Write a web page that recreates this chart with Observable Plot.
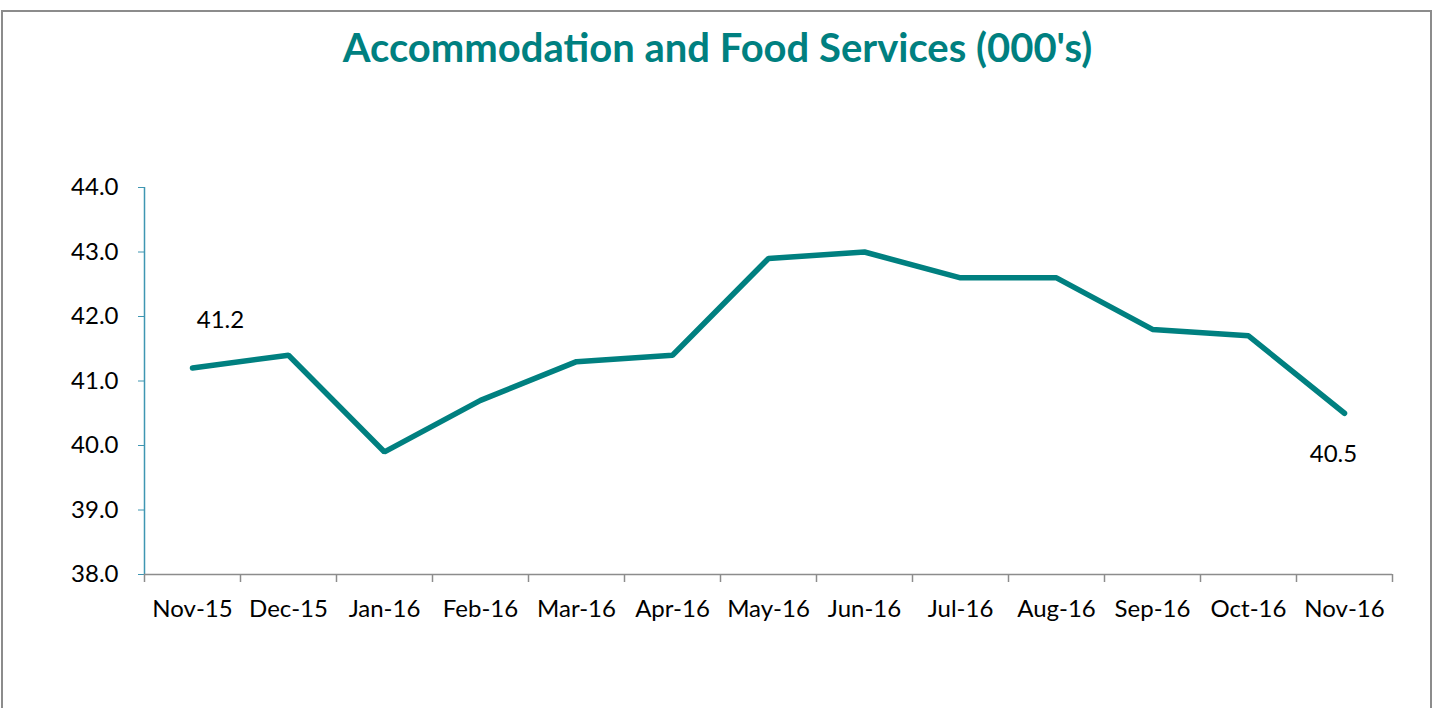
<!DOCTYPE html>
<html>
<head>
<meta charset="utf-8">
<script src="https://cdn.jsdelivr.net/npm/d3@7"></script>
<script src="https://cdn.jsdelivr.net/npm/@observablehq/plot@0.6"></script>
<style>
  html, body { margin: 0; padding: 0; background: #fff; overflow: hidden; }
  #wrap { position: relative; width: 1435px; height: 708px; }
  #frame { position: absolute; left: 1px; top: 10px; width: 1427px; height: 760px;
           border: 2px solid #8c8c8c; box-sizing: content-box; pointer-events: none; }
  #title { position: absolute; left: 0; top: 0; width: 1435px; height: 100px;
           font-family: Lato, sans-serif; font-weight: 700; font-size: 40px; color: #008080;
           text-align: center; line-height: 100px; }
  #titleText { position: relative; top: -3px; }
  #chart { position: absolute; left: 0; top: 100px; }
</style>
</head>
<body>
<div id="wrap">
  <div id="title"><span id="titleText">Accommodation and Food Services (000's)</span></div>
  <div id="chart"></div>
  <div id="frame"></div>
</div>
<script>
const months = ["Nov-15","Dec-15","Jan-16","Feb-16","Mar-16","Apr-16","May-16","Jun-16","Jul-16","Aug-16","Sep-16","Oct-16","Nov-16"];
const values = [41.2, 41.4, 39.9, 40.7, 41.3, 41.4, 42.9, 43.0, 42.6, 42.6, 41.8, 41.7, 40.5];
const yTicks = [38, 39, 40, 41, 42, 43, 44];
const labelled = [0, 12]; // indices carrying data labels

const data = months.map((m, i) => ({month: m, idx: i + 0.5, value: values[i]}));
const teal = "#008080";
const yAxisColor = "#3f96b2";
const xAxisColor = "#8c8c8c";

const plot = Plot.plot({
  width: 1435,
  height: 608,
  marginLeft: 144,
  marginRight: 43,
  marginTop: 87,
  marginBottom: 134,
  style: {fontFamily: "Lato, sans-serif", fontSize: "24px", color: "#000", background: "transparent"},
  x: {type: "linear", domain: [0, months.length], label: null},
  y: {domain: [38, 44], label: null},
  marks: [
    // y axis
    Plot.axisY(yTicks, {tickFormat: d => d.toFixed(1), tickSize: 6, tickPadding: 20, stroke: yAxisColor, fill: "#000", fontSize: 24, label: null}),
    Plot.ruleX([0], {stroke: yAxisColor, strokeWidth: 1.5}),
    // x axis: boundary ticks + category labels
    Plot.axisX(d3.range(months.length + 1), {tickSize: 8, tickFormat: () => "", stroke: xAxisColor, strokeWidth: 1.5, label: null}),
    Plot.axisX(data.map(d => d.idx), {tickSize: 0, tickPadding: 25, tickFormat: d => months[Math.floor(d)], fill: "#000", fontSize: 24, label: null}),
    Plot.ruleY([38], {stroke: xAxisColor, strokeWidth: 1.5}),
    // series
    Plot.line(data, {x: "idx", y: "value", stroke: teal, strokeWidth: 5.5, strokeLinecap: "round", strokeLinejoin: "miter"}),
    // data labels
    Plot.text(data.filter((d, i) => i === labelled[0]), {x: "idx", y: "value", text: d => d.value.toFixed(1), dx: 28, dy: -48, fontSize: 24, fill: "#000"}),
    Plot.text(data.filter((d, i) => i === labelled[1]), {x: "idx", y: "value", text: d => d.value.toFixed(1), dx: -11, dy: 41, fontSize: 24, fill: "#000"})
  ]
});
document.getElementById("chart").appendChild(plot);
</script>
</body>
</html>
